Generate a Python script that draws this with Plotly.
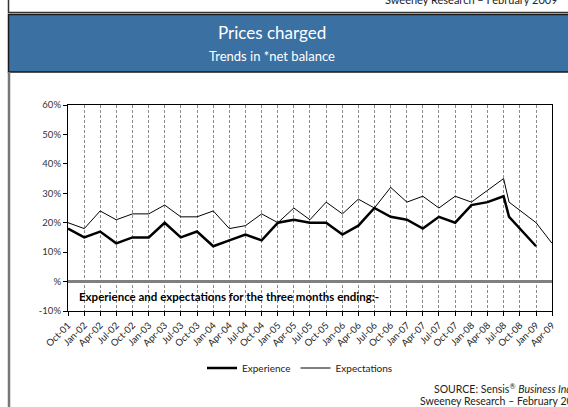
import plotly.graph_objects as go

# ---- data ----
tick_dates = ["2001-10-01", "2002-01-01", "2002-04-01", "2002-07-01", "2002-10-01",
              "2003-01-01", "2003-04-01", "2003-07-01", "2003-10-01",
              "2004-01-01", "2004-04-01", "2004-07-01", "2004-10-01",
              "2005-01-01", "2005-04-01", "2005-07-01", "2005-10-01",
              "2006-01-01", "2006-04-01", "2006-07-01", "2006-10-01",
              "2007-01-01", "2007-04-01", "2007-07-01", "2007-10-01",
              "2008-01-01", "2008-04-01", "2008-07-01", "2008-10-01",
              "2009-01-01", "2009-04-01"]
tick_labels = ["Oct-01", "Jan-02", "Apr-02", "Jul-02", "Oct-02",
               "Jan-03", "Apr-03", "Jul-03", "Oct-03",
               "Jan-04", "Apr-04", "Jul-04", "Oct-04",
               "Jan-05", "Apr-05", "Jul-05", "Oct-05",
               "Jan-06", "Apr-06", "Jul-06", "Oct-06",
               "Jan-07", "Apr-07", "Jul-07", "Oct-07",
               "Jan-08", "Apr-08", "Jul-08", "Oct-08",
               "Jan-09", "Apr-09"]

experience_dates = ["2001-10-01", "2002-01-01", "2002-04-01", "2002-07-01", "2002-10-01",
                    "2003-01-01", "2003-04-01", "2003-07-01", "2003-10-01",
                    "2004-01-01", "2004-04-01", "2004-07-01", "2004-10-01",
                    "2005-01-01", "2005-04-01", "2005-07-01", "2005-10-01",
                    "2006-01-01", "2006-04-01", "2006-07-01", "2006-10-01",
                    "2007-01-01", "2007-04-01", "2007-07-01", "2007-10-01",
                    "2008-01-01", "2008-04-01", "2008-07-01", "2008-08-01",
                    "2009-01-01"]
experience = [18, 15, 17, 13, 15, 15, 20, 15, 17, 12, 14, 16, 14, 20, 21, 20, 20,
              16, 19, 25, 22, 21, 18, 22, 20, 26, 27, 29, 22, 12]

expectations_dates = experience_dates + ["2009-04-01"]
expectations = [20, 18, 24, 21, 23, 23, 26, 22, 22, 24, 18, 19, 23, 20, 25, 21, 27,
                23, 28, 25, 32, 27, 29, 25, 29, 27, 31, 35, 27, 20, 13]

y_ticks = [-10, 0, 10, 20, 30, 40, 50, 60]
y_labels = ["-10%", "%", "10%", "20%", "30%", "40%", "50%", "60%"]

# ---- layout helpers (pixel -> paper) ----
W, H = 568, 407
PL, PR, PT, PB = 68, 552, 105, 311


def X(px):
    return (px - PL) / (PR - PL)


def Y(py):
    return (PB - py) / (PB - PT)


FONT = "Lato, Roboto, sans-serif"
BLUE = "#3b70a2"

fig = go.Figure()
fig.add_trace(go.Scatter(x=experience_dates, y=experience, mode="lines", name="Experience",
                         line=dict(color="black", width=2.5)))
fig.add_trace(go.Scatter(x=expectations_dates, y=expectations, mode="lines", name="Expectations",
                         line=dict(color="black", width=1)))

fig.update_layout(
    width=W, height=H,
    margin=dict(l=PL, r=W - PR, t=PT, b=H - PB, pad=0),
    paper_bgcolor="white", plot_bgcolor="white",
    font=dict(family=FONT, size=9, color="#222"),
    showlegend=True,
    legend=dict(orientation="h", x=X(300), y=Y(368), xanchor="center", yanchor="middle",
                font=dict(size=10, color="#222"), bgcolor="rgba(0,0,0,0)",
                itemwidth=30, tracegroupgap=0),
)

fig.update_xaxes(
    type="date", range=["2001-10-01", "2009-04-01"],
    tickvals=tick_dates, ticktext=tick_labels, tickangle=-45,
    tickfont=dict(size=9.5, color="#222"),
    showgrid=True, gridcolor="#8a8a8a", griddash="3px,2px", gridwidth=1,
    showline=True, linecolor="black", linewidth=1.2, mirror=True,
    ticks="outside", ticklen=4, tickcolor="black",
    zeroline=False,
)
fig.update_yaxes(
    range=[-10, 60], tickvals=y_ticks, ticktext=y_labels,
    tickfont=dict(size=9.5, color="#333"),
    showgrid=False,
    zeroline=True, zerolinecolor="#808080", zerolinewidth=2.5,
    showline=True, linecolor="black", linewidth=1.2, mirror=True,
    ticks="outside", ticklen=4, tickcolor="black",
)

shapes = [
    # top frame box
    dict(type="rect", xref="paper", yref="paper", x0=X(8.5), x1=X(600), y0=Y(-10), y1=Y(12.5),
         line=dict(color="#333", width=1.5), fillcolor="rgba(0,0,0,0)", layer="above"),
    # blue header
    dict(type="rect", xref="paper", yref="paper", x0=X(8.5), x1=X(600), y0=Y(72), y1=Y(14.5),
         line=dict(color="#1a1a1a", width=1.5), fillcolor=BLUE, layer="above"),
    # left page rule
    dict(type="line", xref="paper", yref="paper", x0=X(9), x1=X(9), y0=Y(72), y1=Y(420),
         line=dict(color="#777", width=2.5)),
]
fig.update_layout(shapes=shapes)

annotations = [
    dict(text="Prices charged", x=X(272), y=Y(33), xref="paper", yref="paper",
         xanchor="center", yanchor="middle", showarrow=False,
         font=dict(size=17, color="white", family=FONT)),
    dict(text="Trends in *net balance", x=X(272), y=Y(56), xref="paper", yref="paper",
         xanchor="center", yanchor="middle", showarrow=False,
         font=dict(size=13, color="white", family=FONT)),
    dict(text="Sweeney Research \u2013 February 2009", x=X(383), y=Y(-1), xref="paper", yref="paper",
         xanchor="left", yanchor="middle", showarrow=False,
         font=dict(size=11, color="#222", family=FONT)),
    dict(text="<b>Experience and expectations for the three months ending:-</b>",
         x=X(77), y=Y(296), xref="paper", yref="paper",
         xanchor="left", yanchor="middle", showarrow=False,
         font=dict(size=11.5, color="black", family=FONT)),
    dict(text="SOURCE: Sensis<sup>\u00ae</sup> <i>Business Index</i>", x=X(432), y=Y(388),
         xref="paper", yref="paper", xanchor="left", yanchor="middle", showarrow=False,
         font=dict(size=10.5, color="#222", family=FONT)),
    dict(text="Sweeney Research \u2013 February 2009", x=X(418), y=Y(401),
         xref="paper", yref="paper", xanchor="left", yanchor="middle", showarrow=False,
         font=dict(size=10.5, color="#222", family=FONT)),
]
fig.update_layout(annotations=annotations)

fig.write_html("out.html", config={"displayModeBar": False},
               post_script="document.body.style.margin='0';")
